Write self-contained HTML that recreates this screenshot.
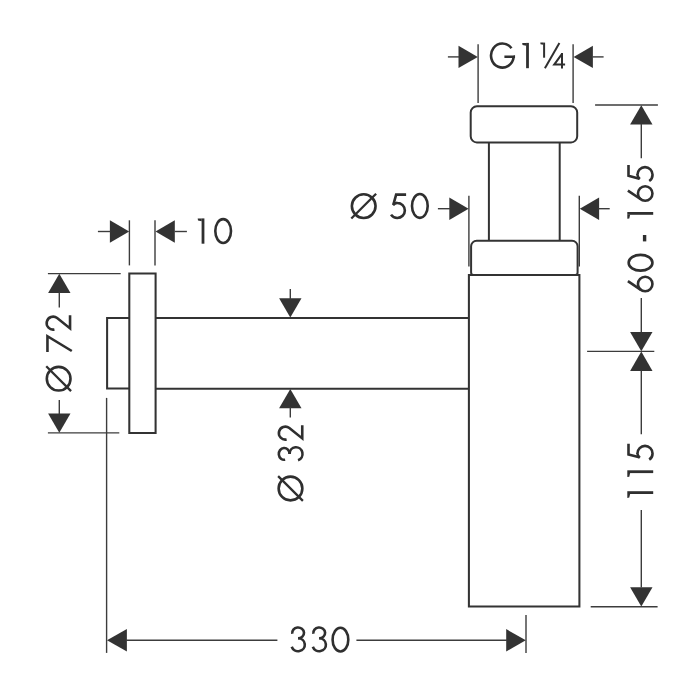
<!DOCTYPE html>
<html><head><meta charset="utf-8"><title>Dimension drawing</title>
<style>html,body{margin:0;padding:0;background:#fff;font-family:"Liberation Sans",sans-serif;}svg{display:block}</style>
</head><body>
<svg width="700" height="700" viewBox="0 0 700 700">
<rect width="700" height="700" fill="#ffffff"/>
<g transform="translate(489.7,68.2)"><path d="M21.76,-19.90 A11.35,12.05 0 1 0 23.99,-11.45 L14.7,-11.45" fill="none" stroke="#2f2f2f" stroke-width="2.6" stroke-linejoin="miter"/><path d="M23.89,-11.45 L25.34,-11.45" fill="none" stroke="#2f2f2f" stroke-width="2.6"/></g>
<g transform="translate(522.0,68.2)"><path d="M4.1,-25.3 H6.9 V0 H4.1 Z" fill="#2f2f2f"/><path d="M0.2,-25.3 H4.2 V-22.5 L0.5,-23.3 Z" fill="#2f2f2f"/></g>
<path d="M543.1,42.6 H545.1 V57.7 H543.1 Z" fill="#2f2f2f"/><path d="M540.3,42.6 H543.2 V44.7 L540.5,44.2 Z" fill="#2f2f2f"/><path d="M559.4,42.9 L544.9,68.3" stroke="#2f2f2f" stroke-width="2.0" fill="none"/><path d="M561,52.9 H563 V68.6 H561 Z" fill="#2f2f2f"/><path d="M562.2,53.6 L554.2,64.6 H565.1" stroke="#2f2f2f" stroke-width="2.0" fill="none" stroke-linejoin="miter"/>
<g transform="translate(363.7,206.1)"><circle cx="0" cy="0" r="11.85" fill="none" stroke="#2f2f2f" stroke-width="2.6"/><path d="M-12.4,12.4 L12.4,-12.4" fill="none" stroke="#2f2f2f" stroke-width="2.3"/></g>
<g transform="translate(390.0,218.6)"><path d="M16.1,-23.95 H6.15 L3.35,-13.9 " fill="none" stroke="#2f2f2f" stroke-width="2.6" stroke-linejoin="miter"/><path d="M3.0,-13.3 Q5,-15.9 7.3,-15.75 A7.55,7.55 0 0 1 7.3,-0.65 A7.55,7.55 0 0 1 1.04,-3.98" fill="none" stroke="#2f2f2f" stroke-width="2.6"/></g>
<g transform="translate(410.7,218.6)"><ellipse cx="9.15" cy="-12.65" rx="7.85" ry="11.9" fill="none" stroke="#2f2f2f" stroke-width="2.6"/></g>
<g transform="translate(197.5,243.7)"><path d="M4.1,-25.3 H6.9 V0 H4.1 Z" fill="#2f2f2f"/><path d="M0.2,-25.3 H4.2 V-22.5 L0.5,-23.3 Z" fill="#2f2f2f"/></g>
<g transform="translate(214.0,243.7)"><ellipse cx="9.15" cy="-12.65" rx="7.85" ry="11.9" fill="none" stroke="#2f2f2f" stroke-width="2.6"/></g>
<g transform="translate(290.2,652.3)"><path d="M2.09,-18.46 A5.9,5.4 0 1 1 7.9,-14.00" fill="none" stroke="#2f2f2f" stroke-width="2.6"/><path d="M7.9,-14.00 A6.7,6.45 0 1 1 1.53,-5.56" fill="none" stroke="#2f2f2f" stroke-width="2.6"/></g>
<g transform="translate(311.3,652.3)"><path d="M2.09,-18.46 A5.9,5.4 0 1 1 7.9,-14.00" fill="none" stroke="#2f2f2f" stroke-width="2.6"/><path d="M7.9,-14.00 A6.7,6.45 0 1 1 1.53,-5.56" fill="none" stroke="#2f2f2f" stroke-width="2.6"/></g>
<g transform="translate(331.3,652.3)"><ellipse cx="9.15" cy="-12.65" rx="7.85" ry="11.9" fill="none" stroke="#2f2f2f" stroke-width="2.6"/></g>
<g transform="translate(58.65,378.7) rotate(-90)"><circle cx="0" cy="0" r="11.85" fill="none" stroke="#2f2f2f" stroke-width="2.6"/><path d="M-12.4,12.4 L12.4,-12.4" fill="none" stroke="#2f2f2f" stroke-width="2.3"/></g>
<g transform="translate(71.4,351.9) rotate(-90)"><path d="M0,-23.95 H15.7 L0.9,0.4" fill="none" stroke="#2f2f2f" stroke-width="2.6" stroke-linejoin="miter" stroke-miterlimit="10"/></g>
<g transform="translate(71.4,330.7) rotate(-90)"><path d="M1.29,-16.96 A6.45,6.45 0 1 1 12.64,-14.27 L2.3,-1.35 H15.4" fill="none" stroke="#2f2f2f" stroke-width="2.6" stroke-linejoin="miter" stroke-miterlimit="10"/></g>
<g transform="translate(290.5,488.5) rotate(-90)"><circle cx="0" cy="0" r="11.85" fill="none" stroke="#2f2f2f" stroke-width="2.6"/><path d="M-12.4,12.4 L12.4,-12.4" fill="none" stroke="#2f2f2f" stroke-width="2.3"/></g>
<g transform="translate(303.6,461.8) rotate(-90)"><path d="M2.09,-18.46 A5.9,5.4 0 1 1 7.9,-14.00" fill="none" stroke="#2f2f2f" stroke-width="2.6"/><path d="M7.9,-14.00 A6.7,6.45 0 1 1 1.53,-5.56" fill="none" stroke="#2f2f2f" stroke-width="2.6"/></g>
<g transform="translate(303.6,440.7) rotate(-90)"><path d="M1.29,-16.96 A6.45,6.45 0 1 1 12.64,-14.27 L2.3,-1.35 H15.4" fill="none" stroke="#2f2f2f" stroke-width="2.6" stroke-linejoin="miter" stroke-miterlimit="10"/></g>
<g transform="translate(653.2,292.6) rotate(-90)"><circle cx="8.55" cy="-8.0" r="7.25" fill="none" stroke="#2f2f2f" stroke-width="2.6"/><path d="M11.45,-25.3 L2.53,-12.05" fill="none" stroke="#2f2f2f" stroke-width="2.6"/></g>
<g transform="translate(653.2,271.9) rotate(-90)"><ellipse cx="9.15" cy="-12.65" rx="7.85" ry="11.9" fill="none" stroke="#2f2f2f" stroke-width="2.6"/></g>
<g transform="translate(653.2,241.4) rotate(-90)"><rect x="0" y="-10.3" width="6.4" height="3.4" fill="#2f2f2f"/></g>
<g transform="translate(653.2,218.9) rotate(-90)"><path d="M4.1,-25.9 H6.9 V0 H4.1 Z" fill="#2f2f2f"/><path d="M0.2,-25.9 H4.2 V-23.099999999999998 L0.5,-23.9 Z" fill="#2f2f2f"/></g>
<g transform="translate(653.2,202.0) rotate(-90)"><circle cx="8.55" cy="-8.0" r="7.25" fill="none" stroke="#2f2f2f" stroke-width="2.6"/><path d="M11.45,-25.3 L2.53,-12.05" fill="none" stroke="#2f2f2f" stroke-width="2.6"/></g>
<g transform="translate(653.2,182.0) rotate(-90)"><path d="M17.0,-24.7 H6.15 L3.35,-13.9 " fill="none" stroke="#2f2f2f" stroke-width="2.6" stroke-linejoin="miter"/><path d="M3.0,-13.3 Q5,-15.9 7.3,-15.75 A7.55,7.55 0 0 1 7.3,-0.65 A7.55,7.55 0 0 1 1.04,-3.98" fill="none" stroke="#2f2f2f" stroke-width="2.6"/></g>
<g transform="translate(653.2,498.1) rotate(-90)"><path d="M4.1,-25.9 H6.9 V0 H4.1 Z" fill="#2f2f2f"/><path d="M0.2,-25.9 H4.2 V-23.099999999999998 L0.5,-23.9 Z" fill="#2f2f2f"/></g>
<g transform="translate(653.2,477.2) rotate(-90)"><path d="M4.1,-25.9 H6.9 V0 H4.1 Z" fill="#2f2f2f"/><path d="M0.2,-25.9 H4.2 V-23.099999999999998 L0.5,-23.9 Z" fill="#2f2f2f"/></g>
<g transform="translate(653.2,460.7) rotate(-90)"><path d="M17.0,-24.7 H6.15 L3.35,-13.9 " fill="none" stroke="#2f2f2f" stroke-width="2.6" stroke-linejoin="miter"/><path d="M3.0,-13.3 Q5,-15.9 7.3,-15.75 A7.55,7.55 0 0 1 7.3,-0.65 A7.55,7.55 0 0 1 1.04,-3.98" fill="none" stroke="#2f2f2f" stroke-width="2.6"/></g>
<path d="M476.9,106.3 H571.0 A6.2,6.2 0 0 1 577.2,112.5 V136.20000000000002 A6.2,6.2 0 0 1 571.0,142.4 H476.9 A6.2,6.2 0 0 1 470.7,136.20000000000002 V112.5 A6.2,6.2 0 0 1 476.9,106.3 Z" stroke="#333" stroke-width="2.0" fill="none"/>
<path d="M488.9,142.4 L488.9,240.7" stroke="#333" stroke-width="2.0" fill="none"/>
<path d="M559.7,142.4 L559.7,240.7" stroke="#333" stroke-width="2.0" fill="none"/>
<path d="M476.70000000000005,240.7 H572.0 A5.6,5.6 0 0 1 577.6,246.29999999999998 V272.4 A2.5,2.5 0 0 1 575.1,274.9 H473.6 A2.5,2.5 0 0 1 471.1,272.4 V246.29999999999998 A5.6,5.6 0 0 1 476.70000000000005,240.7 Z" stroke="#333" stroke-width="2.0" fill="none"/>
<path d="M468.9,275 H579.4 V606.4 H468.9 Z" stroke="#333" stroke-width="2.05" fill="none"/>
<path d="M155.6,317.9 L469,317.9" stroke="#333" stroke-width="2.05" fill="none"/>
<path d="M155.6,388.75 L469,388.75" stroke="#333" stroke-width="2.05" fill="none"/>
<path d="M129.3,273.4 H155.6 V433.0 H129.3 Z" stroke="#333" stroke-width="2.05" fill="none"/>
<path d="M129.3,317.9 H107.1 V388.4 H129.3" stroke="#333" stroke-width="2.05" fill="none"/>
<path d="M478.1,44.3 L478.1,102.9" stroke="#3c3c3c" stroke-width="1.4" fill="none"/>
<path d="M573.1,44.3 L573.1,102.9" stroke="#3c3c3c" stroke-width="1.4" fill="none"/>
<path d="M477.8,56.9 L458.50,68.10 L458.50,45.70 Z" fill="#333"/>
<path d="M447.9,56.9 L459,56.9" stroke="#3c3c3c" stroke-width="1.4" fill="none"/>
<path d="M573.6,56.9 L592.90,45.70 L592.90,68.10 Z" fill="#333"/>
<path d="M592.5,56.9 L603.6,56.9" stroke="#3c3c3c" stroke-width="1.4" fill="none"/>
<path d="M468.9,195.7 L468.9,266.6" stroke="#3c3c3c" stroke-width="1.4" fill="none"/>
<path d="M579.3,195.7 L579.3,266.6" stroke="#3c3c3c" stroke-width="1.4" fill="none"/>
<path d="M468.6,208.7 L449.30,219.90 L449.30,197.50 Z" fill="#333"/>
<path d="M437.9,208.7 L450,208.7" stroke="#3c3c3c" stroke-width="1.4" fill="none"/>
<path d="M579.8,208.7 L599.10,197.50 L599.10,219.90 Z" fill="#333"/>
<path d="M598.5,208.7 L609.7,208.7" stroke="#3c3c3c" stroke-width="1.4" fill="none"/>
<path d="M129.4,220.3 L129.4,265.4" stroke="#3c3c3c" stroke-width="1.4" fill="none"/>
<path d="M155.0,220.3 L155.0,265.4" stroke="#3c3c3c" stroke-width="1.4" fill="none"/>
<path d="M129.2,231.5 L109.90,242.70 L109.90,220.30 Z" fill="#333"/>
<path d="M97.9,231.5 L110.5,231.5" stroke="#3c3c3c" stroke-width="1.4" fill="none"/>
<path d="M155.5,231.5 L174.80,220.30 L174.80,242.70 Z" fill="#333"/>
<path d="M174.5,231.5 L186.9,231.5" stroke="#3c3c3c" stroke-width="1.4" fill="none"/>
<path d="M47.9,273.6 L120.7,273.6" stroke="#3c3c3c" stroke-width="1.4" fill="none"/>
<path d="M47.9,432.9 L119.3,432.9" stroke="#3c3c3c" stroke-width="1.4" fill="none"/>
<path d="M59.3,273.8 L70.50,293.10 L48.10,293.10 Z" fill="#333"/>
<path d="M59.3,292.5 L59.3,307.4" stroke="#3c3c3c" stroke-width="1.4" fill="none"/>
<path d="M59.3,432.8 L48.10,413.50 L70.50,413.50 Z" fill="#333"/>
<path d="M59.3,400 L59.3,414" stroke="#3c3c3c" stroke-width="1.4" fill="none"/>
<path d="M290.3,317.6 L279.10,298.30 L301.50,298.30 Z" fill="#333"/>
<path d="M290.3,288.9 L290.3,299.5" stroke="#3c3c3c" stroke-width="1.4" fill="none"/>
<path d="M290.3,388.9 L301.50,408.20 L279.10,408.20 Z" fill="#333"/>
<path d="M290.3,407 L290.3,417.4" stroke="#3c3c3c" stroke-width="1.4" fill="none"/>
<path d="M106.6,397.9 L106.6,652.9" stroke="#3c3c3c" stroke-width="1.4" fill="none"/>
<path d="M526.0,615 L526.0,652.9" stroke="#3c3c3c" stroke-width="1.4" fill="none"/>
<path d="M107.0,640.3 L126.90,629.10 L126.90,651.50 Z" fill="#333"/>
<path d="M126,640.3 L277.4,640.3" stroke="#3c3c3c" stroke-width="1.4" fill="none"/>
<path d="M525.8,640.3 L506.20,651.50 L506.20,629.10 Z" fill="#333"/>
<path d="M356.4,640.3 L507,640.3" stroke="#3c3c3c" stroke-width="1.4" fill="none"/>
<path d="M595.1,105.0 L657.9,105.0" stroke="#3c3c3c" stroke-width="1.4" fill="none"/>
<path d="M587.1,351.4 L654.3,351.4" stroke="#3c3c3c" stroke-width="1.4" fill="none"/>
<path d="M590.7,606.7 L657.6,606.7" stroke="#3c3c3c" stroke-width="1.4" fill="none"/>
<path d="M641.3,105.3 L652.50,124.60 L630.10,124.60 Z" fill="#333"/>
<path d="M641.3,124 L641.3,158.3" stroke="#3c3c3c" stroke-width="1.4" fill="none"/>
<path d="M641.3,351.2 L630.10,331.90 L652.50,331.90 Z" fill="#333"/>
<path d="M641.3,297.9 L641.3,332" stroke="#3c3c3c" stroke-width="1.4" fill="none"/>
<path d="M641.3,351.6 L652.50,370.90 L630.10,370.90 Z" fill="#333"/>
<path d="M641.3,370.5 L641.3,434.3" stroke="#3c3c3c" stroke-width="1.4" fill="none"/>
<path d="M641.3,606.5 L630.10,587.20 L652.50,587.20 Z" fill="#333"/>
<path d="M641.3,510 L641.3,587.5" stroke="#3c3c3c" stroke-width="1.4" fill="none"/>
</svg>
</body></html>
